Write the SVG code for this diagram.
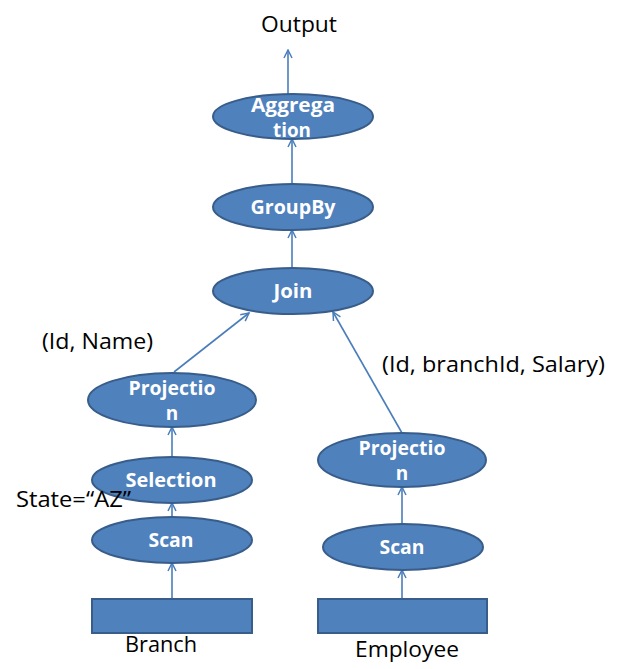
<svg xmlns="http://www.w3.org/2000/svg" width="624" height="669" viewBox="0 0 624 669">
<defs>
<marker id="arr" viewBox="0 0 10 10" refX="9" refY="5" markerWidth="10" markerHeight="10" markerUnits="userSpaceOnUse" orient="auto">
<path d="M1,1 L9,5 L1,9" fill="none" stroke="#4A7EBB" stroke-width="1.5"/>
</marker>
<style>
.n{fill:#4F81BD;stroke:#385D8A;stroke-width:2}
.t{font-family:"Open Sans","Noto Sans",sans-serif;font-weight:bold;font-size:19px;fill:#fff;text-anchor:middle}
.l{font-family:"Open Sans","Noto Sans",sans-serif;font-size:21px;fill:#000}
.c{stroke:#4A7EBB;stroke-width:1.6;fill:none;marker-end:url(#arr)}
</style>
</defs>
<rect width="624" height="669" fill="#fff"/>
<g id="connectors">
<line class="c" x1="288" y1="94" x2="288" y2="50"/>
<line class="c" x1="292" y1="184" x2="292" y2="139"/>
<line class="c" x1="292" y1="268" x2="292" y2="230"/>
<line class="c" x1="174" y1="372" x2="249" y2="313"/>
<line class="c" x1="402" y1="433" x2="333" y2="312"/>
<line class="c" x1="172" y1="457" x2="172" y2="427"/>
<line class="c" x1="172" y1="517" x2="172" y2="503"/>
<line class="c" x1="172" y1="599" x2="172" y2="563"/>
<line class="c" x1="402" y1="524" x2="402" y2="487"/>
<line class="c" x1="402" y1="599" x2="402" y2="570"/>
</g>
<g id="output"><text class="l" x="299" y="32" text-anchor="middle" textLength="76" lengthAdjust="spacingAndGlyphs">Output</text></g>
<g id="aggregation"><ellipse class="n" cx="293" cy="116.5" rx="80" ry="22.5"/><text class="t" x="293" y="112" textLength="84" lengthAdjust="spacingAndGlyphs">Aggrega</text><text class="t" x="292" y="137" textLength="38" lengthAdjust="spacingAndGlyphs">tion</text></g>
<g id="groupby"><ellipse class="n" cx="293" cy="207" rx="80" ry="23"/><text class="t" x="293" y="214" textLength="85" lengthAdjust="spacingAndGlyphs">GroupBy</text></g>
<g id="join"><ellipse class="n" cx="293" cy="291" rx="80" ry="23"/><text class="t" x="293" y="298" textLength="39" lengthAdjust="spacingAndGlyphs">Join</text></g>
<g id="projection-left"><ellipse class="n" cx="172" cy="400" rx="84" ry="27"/><text class="t" x="172" y="395" textLength="87" lengthAdjust="spacingAndGlyphs">Projectio</text><text class="t" x="172" y="420">n</text></g>
<g id="selection"><ellipse class="n" cx="172" cy="480" rx="80" ry="23"/><text class="t" x="171" y="487" textLength="91" lengthAdjust="spacingAndGlyphs">Selection</text></g>
<g id="scan-left"><ellipse class="n" cx="172" cy="540" rx="80" ry="23"/><text class="t" x="171" y="547" textLength="45" lengthAdjust="spacingAndGlyphs">Scan</text></g>
<g id="branch"><rect class="n" x="92" y="599" width="160" height="34"/><text class="l" x="161" y="652" text-anchor="middle" textLength="72" lengthAdjust="spacingAndGlyphs">Branch</text></g>
<g id="projection-right"><ellipse class="n" cx="402" cy="460" rx="84" ry="27"/><text class="t" x="402" y="455" textLength="87" lengthAdjust="spacingAndGlyphs">Projectio</text><text class="t" x="402" y="480">n</text></g>
<g id="scan-right"><ellipse class="n" cx="403" cy="547" rx="80" ry="23"/><text class="t" x="402" y="554" textLength="45" lengthAdjust="spacingAndGlyphs">Scan</text></g>
<g id="employee"><rect class="n" x="318" y="599" width="169" height="34"/><text class="l" x="407" y="657" text-anchor="middle" textLength="104" lengthAdjust="spacingAndGlyphs">Employee</text></g>
<g id="labels">
<text class="l" x="42" y="349" textLength="111" lengthAdjust="spacingAndGlyphs">(Id, Name)</text>
<text class="l" x="382" y="372" textLength="223" lengthAdjust="spacingAndGlyphs">(Id, branchId, Salary)</text>
<text class="l" x="16" y="507" textLength="115" lengthAdjust="spacingAndGlyphs">State=“AZ”</text>
</g>
</svg>
